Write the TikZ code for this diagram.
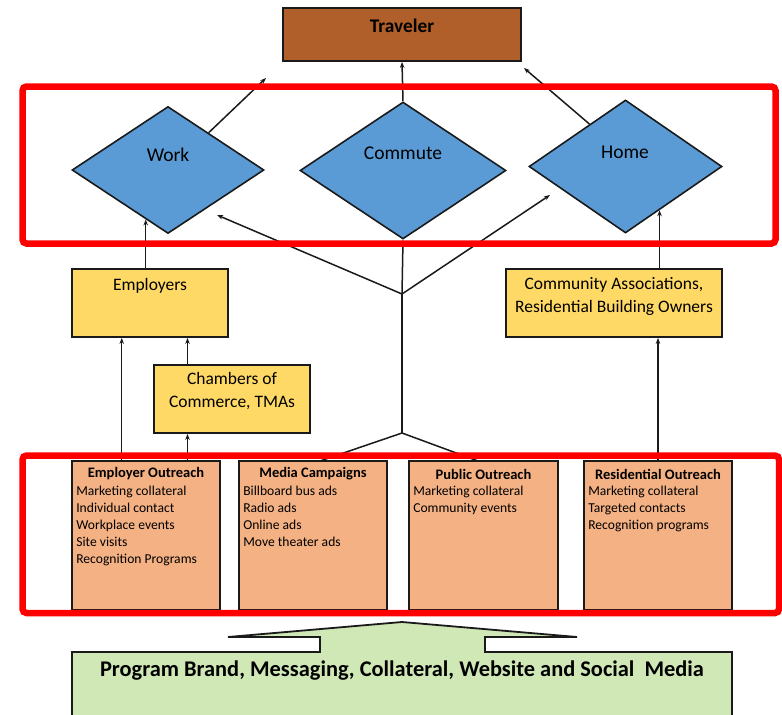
\documentclass[tikz,border=0pt]{standalone}
\usepackage{fontspec}
\setmainfont{Carlito}
\usetikzlibrary{shapes.geometric,arrows.meta,calc}
\definecolor{travfill}{HTML}{B05E2A}
\definecolor{diafill}{HTML}{5B9BD5}
\definecolor{yelfill}{HTML}{FFD966}
\definecolor{salfill}{HTML}{F4B183}
\definecolor{grnfill}{HTML}{CFE8B6}
\definecolor{edge}{HTML}{1A1A1A}
\definecolor{frame}{HTML}{FF0000}
\tikzset{
  boxbase/.style={draw=edge, line width=1.8pt, inner sep=0pt},
  travbox/.style={boxbase, fill=travfill},
  yelbox/.style={boxbase, fill=yelfill},
  salbox/.style={boxbase, fill=salfill},
  dia/.style={diamond, draw=edge, line width=1.6pt, fill=diafill, inner sep=0pt},
  lbl/.style={inner sep=0pt, font=\fontsize{19.5}{23}\selectfont, align=center},
  midlbl/.style={inner sep=0pt, font=\fontsize{17.5}{23}\selectfont, align=center},
  ttl/.style={inner sep=0pt, font=\fontsize{14.5}{17}\selectfont\bfseries},
  items/.style={inner sep=0pt, anchor=north west, align=left, font=\fontsize{13.6}{17}\selectfont},
  conn/.style={draw=edge, line width=1.5pt},
  arr/.style={conn, -{Stealth[length=6pt,width=4.5pt]}},
  redframe/.style={draw=frame, line width=6.5pt, rounded corners=4pt}
}
\begin{document}
\begin{tikzpicture}[x=1pt,y=-1pt]
\useasboundingbox (0,0) rectangle (782,715);

% top level
\node[travbox, minimum width=238pt, minimum height=53pt] (trav) at (402,34.5) {};
\node[inner sep=0pt, font=\fontsize{19.3}{23}\selectfont\bfseries] (travtxt) at (402,26) {Traveler};

% settings where travel happens
\node[dia, minimum width=192pt, minimum height=127pt] (work) at (168,170) {};
\node[dia, minimum width=206pt, minimum height=137pt] (com) at (403,170.5) {};
\node[dia, minimum width=193pt, minimum height=133pt] (home) at (625.5,166.5) {};
\node[lbl] (worktxt) at (168,155) {Work};
\node[lbl] (comtxt) at (403,153) {Commute};
\node[lbl] (hometxt) at (625,152) {Home};

% intermediaries
\node[yelbox, minimum width=156pt, minimum height=68pt] (emp) at (150,303) {};
\node[midlbl] (emptxt) at (150,286) {Employers};
\node[yelbox, minimum width=216pt, minimum height=68pt] (comm) at (614,303) {};
\node[midlbl] (commtxt) at (614,296.5) {Community Associations,\\Residential Building Owners};
\node[yelbox, minimum width=156pt, minimum height=68pt] (ch) at (232,399) {};
\node[midlbl] (chtxt) at (232,391.5) {Chambers of\\Commerce, TMAs};

% outreach channels
\node[salbox, minimum width=148pt, minimum height=149pt] (eo) at (146,535.5) {};
\node[salbox, minimum width=148pt, minimum height=149pt] (mc) at (313,535.5) {};
\node[salbox, minimum width=149pt, minimum height=149pt] (po) at (483.5,535.5) {};
\node[salbox, minimum width=148pt, minimum height=149pt] (ro) at (658,535.5) {};

\node[ttl] (eot) at (146,474) {Employer Outreach};
\node[ttl] (mct) at (313,474) {Media Campaigns};
\node[ttl] (pot) at (483.5,474) {Public Outreach};
\node[ttl] (rot) at (658,474) {Residential Outreach};

\node[items] (eoi) at ($(eo.north west)+(5,23.5)$) {\strut Marketing collateral\\Individual contact\\Workplace events\\Site visits\\Recognition Programs};
\node[items] (mci) at ($(mc.north west)+(5,23.5)$) {\strut Billboard bus ads\\Radio ads\\Online ads\\Move theater ads};
\node[items] (poi) at ($(po.north west)+(5,23.5)$) {\strut Marketing collateral\\Community events};
\node[items] (roi) at ($(ro.north west)+(5,23.5)$) {\strut Marketing collateral\\Targeted contacts\\Recognition programs};

% program foundation block with its upward arrow, one green outline
\fill[grnfill] (72,652) rectangle (732,720);
\fill[grnfill] (320,653) -- (320,637) -- (228,637) -- (402,622)
  -- (577,637) -- (485,637) -- (485,653) -- cycle;
\draw[edge, line width=1.8pt, line join=miter]
  (72,720) -- (72,652) -- (320,652) -- (320,637) -- (228,637) -- (402,622)
  -- (577,637) -- (485,637) -- (485,652) -- (732,652) -- (732,720);
\node[inner sep=0pt, font=\fontsize{22.4}{26}\selectfont\bfseries] (prog) at (402,671) {Program Brand, Messaging, Collateral, Website and Social\ \ Media};

% connectors to the traveler
\coordinate (wt) at (266,78);
\coordinate (ht) at (524,68);
\draw[arr] (com.north) -- (trav.south);
\draw[arr] ($(work.north)!0.42!(work.east)$) -- (wt);
\draw[arr] ($(home.north)!0.37!(home.west)$) -- (ht);

% shared channels
\coordinate (j1) at (402,294);
\coordinate (j2) at (402,433);
\coordinate (wa) at (217,215);
\coordinate (ha) at (550,195);
\draw[arr] (j1) -- (wa);
\draw[arr] (j1) -- (com.south);
\draw[arr] (j1) -- (ha);
\draw[conn] (j2) -- (j1);
\coordinate (mtop) at (320,461);
\coordinate (ptop) at (478,461);
\draw[conn] (mtop) -- (j2) -- (ptop);

% employer path
\coordinate (eox) at ($(eo.north west)!0.338!(eo.north east)$);
\draw[arr] (eox) -- (eox |- emp.south);
\coordinate (chx) at ($(ch.south west)!0.218!(ch.south east)$);
\draw[arr] (chx |- eo.north) -- (chx);
\coordinate (chn) at ($(ch.north west)!0.218!(ch.north east)$);
\draw[arr] (chn) -- (chn |- emp.south);
\coordinate (wb) at ($(work.west)!0.77!(work.south)$);
\draw[arr] (wb |- emp.north) -- (wb);

% residential path
\draw[arr] (ro.north) -- (ro.north |- comm.south);
\coordinate (hb) at ($(home.east)!0.65!(home.south)$);
\draw[arr] (hb |- comm.north) -- (hb);

% highlight frames
\draw[redframe] (22.5,86.5) rectangle (775.5,243.5);
\draw[redframe] (22.5,455.5) rectangle (779,613);
\end{tikzpicture}
\end{document}
